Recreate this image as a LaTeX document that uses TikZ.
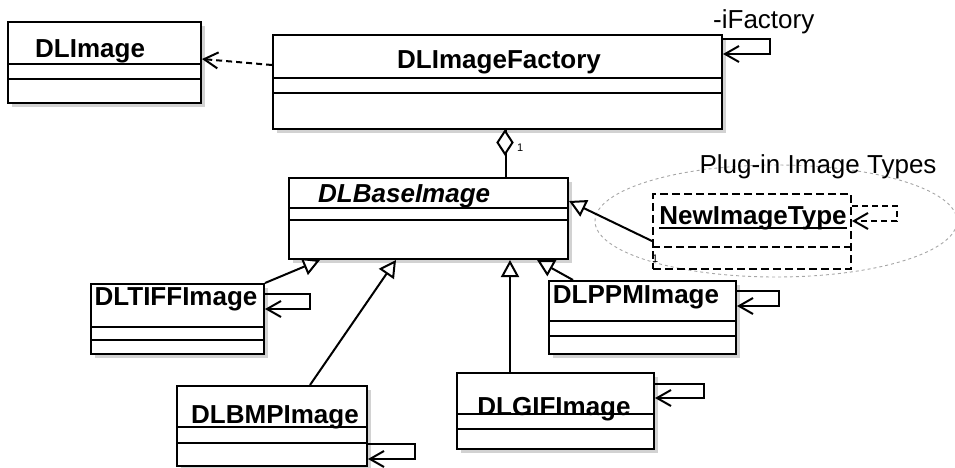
\documentclass[tikz,border=0pt]{standalone}
\usepackage{fontspec}
\setmainfont{Liberation Sans}
\usetikzlibrary{arrows.meta,shapes.geometric,shadows}

\tikzset{
  cls/.style={draw, line width=2pt, fill=white, rectangle, inner sep=0pt,
    general shadow={fill=gray!35, shadow xshift=4pt, shadow yshift=-4pt}},
  plugcls/.style={draw, line width=2pt, rectangle, inner sep=0pt, dash pattern=on 8pt off 4pt},
  sepline/.style={line width=2pt},
  clsname/.style={font=\fontsize{26}{30}\selectfont\bfseries, inner sep=0pt},
  lbltext/.style={font=\fontsize{26}{30}\selectfont, inner sep=0pt},
  multi/.style={font=\fontsize{11}{12}\selectfont, inner sep=0pt},
  conn/.style={line width=2pt},
  gen/.style={conn, -{Triangle[fill=white, length=17pt, width=18pt]}},
  selfloop/.style={conn, -{Straight Barb[length=14pt, width=16pt]}},
  dep/.style={conn, dash pattern=on 6pt off 4pt, -{Straight Barb[length=14pt, width=16pt]}},
}

\begin{document}
\begin{tikzpicture}[x=1pt, y=-1pt]
\useasboundingbox (0,0) rectangle (955,467);

% package boundary for plug-in types
\node[ellipse, draw=gray!70, line width=0.9pt, dash pattern=on 3pt off 3pt,
      minimum width=362pt, minimum height=112pt, inner sep=0pt] (plug) at (776,221) {};
\node[lbltext, anchor=base] (plugname) at (818,173) {Plug-in Image Types};

% classes
\node[cls, minimum width=193pt, minimum height=81pt, anchor=north west] (img) at (7,21) {};
\node[cls, minimum width=449pt, minimum height=94pt, anchor=north west] (fac) at (272,34) {};
\node[cls, minimum width=279pt, minimum height=81pt, anchor=north west] (base) at (288,177) {};
\node[cls, minimum width=173pt, minimum height=70pt, anchor=north west] (tiff) at (90,283) {};
\node[cls, minimum width=187pt, minimum height=73pt, anchor=north west] (ppm) at (548,280) {};
\node[cls, minimum width=190pt, minimum height=80pt, anchor=north west] (bmp) at (176,385) {};
\node[cls, minimum width=197pt, minimum height=76pt, anchor=north west] (gif) at (456,372) {};
\node[plugcls, minimum width=198pt, minimum height=75pt, anchor=north west] (nit) at (652,193) {};

% compartments
\draw[sepline] (img.west |- 0,64) -- (img.east |- 0,64);
\draw[sepline] (img.west |- 0,79) -- (img.east |- 0,79);
\draw[sepline] (fac.west |- 0,78) -- (fac.east |- 0,78);
\draw[sepline] (fac.west |- 0,93) -- (fac.east |- 0,93);
\draw[sepline] (base.west |- 0,208) -- (base.east |- 0,208);
\draw[sepline] (base.west |- 0,220) -- (base.east |- 0,220);
\draw[sepline] (tiff.west |- 0,327) -- (tiff.east |- 0,327);
\draw[sepline] (tiff.west |- 0,340) -- (tiff.east |- 0,340);
\draw[sepline] (ppm.west |- 0,321) -- (ppm.east |- 0,321);
\draw[sepline] (ppm.west |- 0,336) -- (ppm.east |- 0,336);
\draw[sepline] (bmp.west |- 0,427) -- (bmp.east |- 0,427);
\draw[sepline] (bmp.west |- 0,443) -- (bmp.east |- 0,443);
\draw[sepline] (gif.west |- 0,414) -- (gif.east |- 0,414);
\draw[sepline] (gif.west |- 0,429) -- (gif.east |- 0,429);
\draw[sepline, dash pattern=on 8pt off 4pt] (nit.west |- 0,247) -- (nit.east |- 0,247);

% class names
\node[clsname, anchor=base west] (imgname) at (35,57) {DLImage};
\node[clsname, anchor=base west] (facname) at (397,68) {DLImageFactory};
\node[clsname, anchor=base west, font=\fontsize{26}{30}\selectfont\bfseries\itshape] (basename) at (318,202) {DLBaseImage};
\node[clsname, anchor=base] (tiffname) at (176,305) {DLTIFFImage};
\node[clsname, anchor=base] (ppmname) at (636,303) {DLPPMImage};
\node[clsname, anchor=base] (bmpname) at (275,423) {DLBMPImage};
\node[clsname, anchor=base] (gifname) at (554,415) {DLGIFImage};
\node[clsname, anchor=base] (nitname) at (753,224) {NewImageType};
\draw[line width=1.5pt] ([yshift=-4pt]nitname.base west) -- ([yshift=-4pt]nitname.base east);

% dependency
\draw[dep] ([yshift=17pt]fac.west) -- ([yshift=3.5pt]img.east);

% aggregation
\draw[conn] ([xshift=8.5pt]fac.south) -- ([xshift=77.5pt]base.north);
\draw[conn, fill=white] (505,131) -- (512.5,142.5) -- (505,154) -- (497.5,142.5) -- cycle;
\node[multi, anchor=west] (aggmult) at (517,148) {1};

% generalizations
\draw[gen] (tiff.north east) -- ([xshift=32pt]base.south west);
\draw[gen] ([xshift=134pt]bmp.north west) -- ([xshift=108pt]base.south west);
\draw[gen] ([xshift=54pt]gif.north west) -- ([xshift=222pt]base.south west);
\draw[gen] ([xshift=25pt]ppm.north west) -- ([xshift=249pt]base.south west);
\draw[gen] ([yshift=-9.5pt]nit.west) -- ([yshift=17.5pt]base.east);
\node[multi, anchor=west] (nitmult) at (652,259) {1};

% self associations
\draw[selfloop] ([yshift=43pt]fac.east) -- ++(47,0) -- ++(0,15) -- ([yshift=28pt]fac.east);
\node[lbltext, anchor=base west] (iface) at (713,28) {-iFactory};
\draw[selfloop] ([yshift=25pt]tiff.east) -- ++(45,0) -- ++(0,15) -- ([yshift=10pt]tiff.east);
\draw[selfloop] ([yshift=-18pt]bmp.east) -- ++(47,0) -- ++(0,15) -- ([yshift=-33pt]bmp.east);
\draw[selfloop] ([yshift=27pt]gif.east) -- ++(49,0) -- ++(0,14) -- ([yshift=13pt]gif.east);
\draw[selfloop] ([yshift=26.5pt]ppm.east) -- ++(42,0) -- ++(0,15) -- ([yshift=11.5pt]ppm.east);
\draw[selfloop, dash pattern=on 6pt off 4pt] ([yshift=25.5pt]nit.east) -- ++(45,0) -- ++(0,15) -- ([yshift=10.5pt]nit.east);
\end{tikzpicture}
\end{document}
